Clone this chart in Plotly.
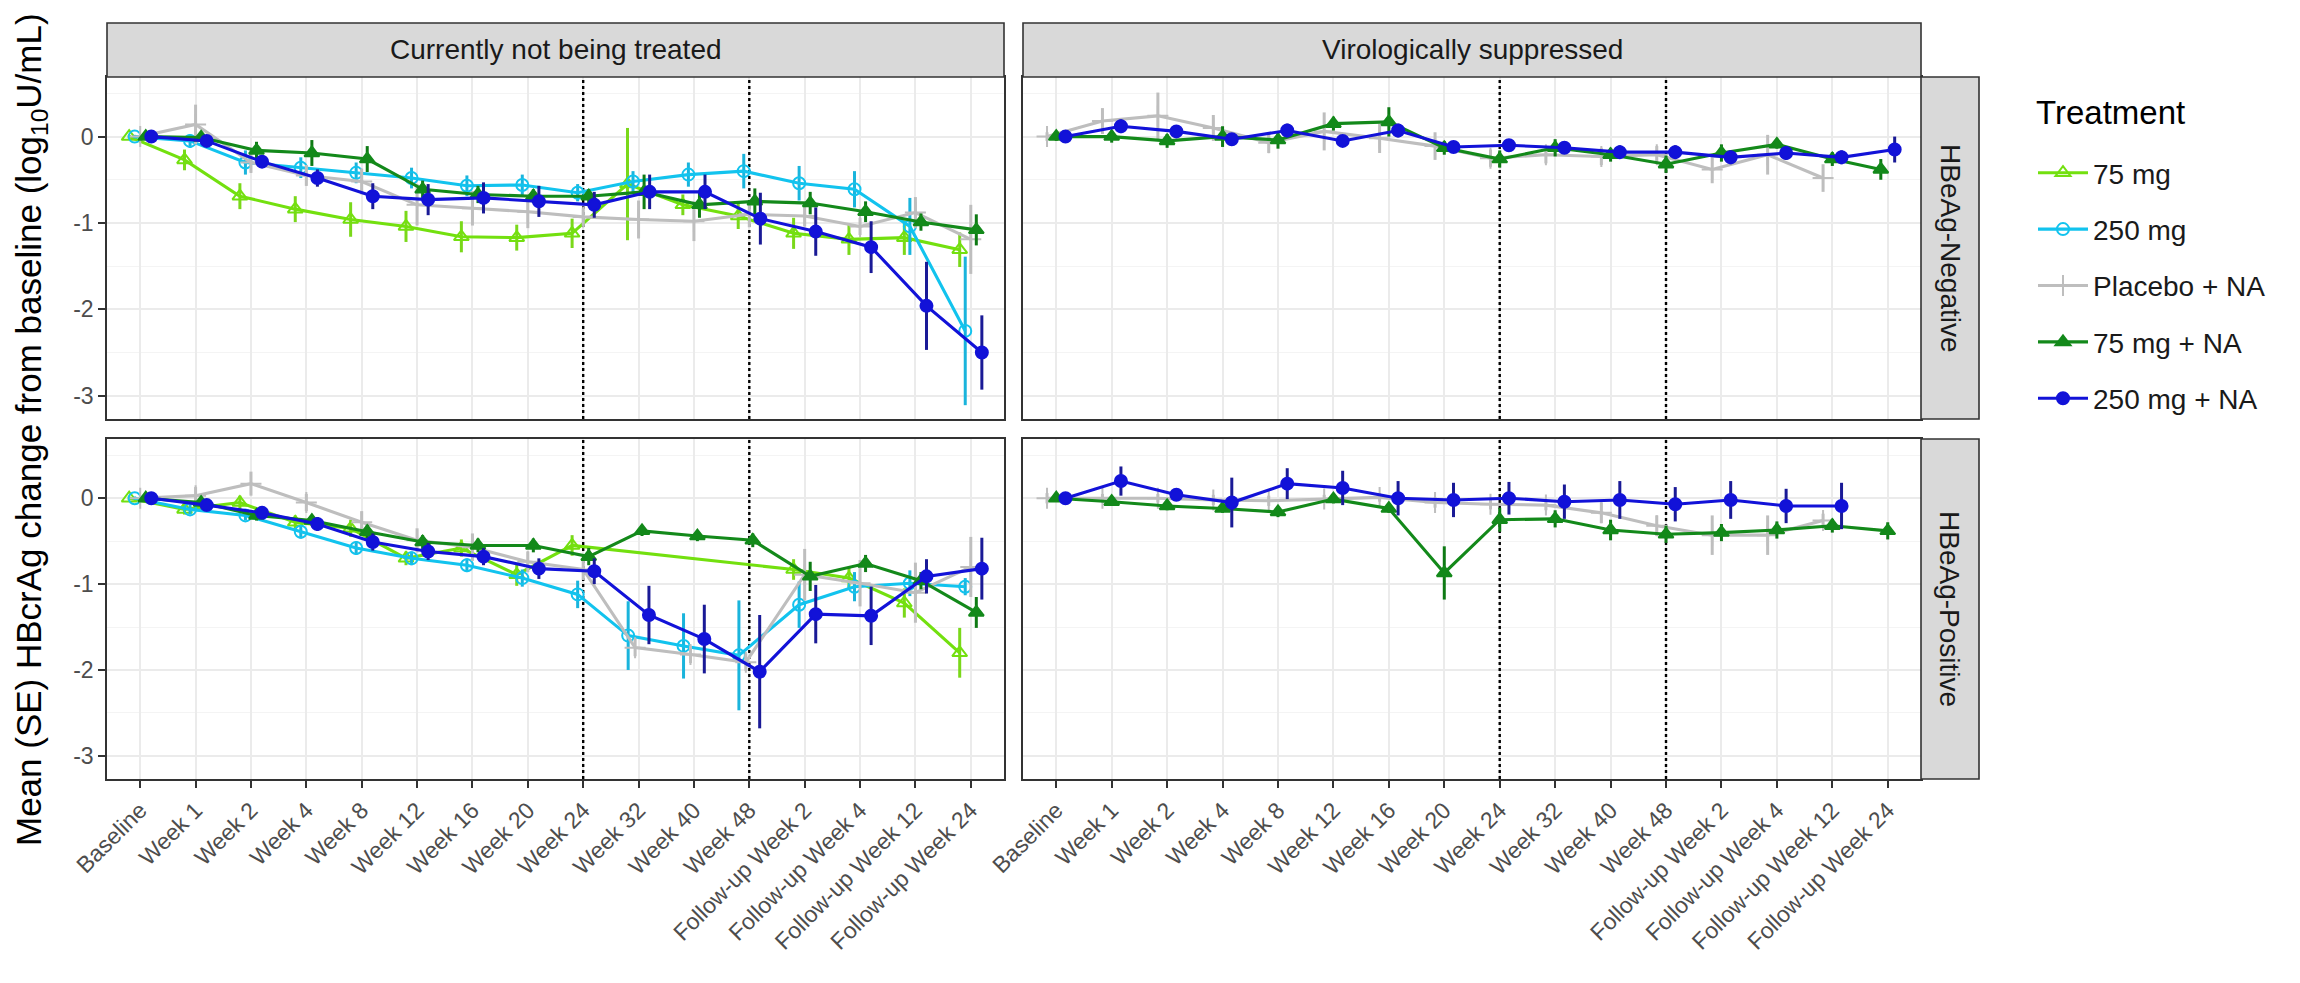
import plotly.graph_objects as go

W, H = 2300, 983

cats = ["Baseline", "Week 1", "Week 2", "Week 4", "Week 8", "Week 12", "Week 16", "Week 20",
        "Week 24", "Week 32", "Week 40", "Week 48", "Follow-up Week 2", "Follow-up Week 4",
        "Follow-up Week 12", "Follow-up Week 24"]
treatments = ["75 mg", "250 mg", "Placebo + NA", "75 mg + NA", "250 mg + NA"]
cohorts = ["Currently not being treated", "Virologically suppressed"]
hbeag = ["HBeAg-Negative", "HBeAg-Positive"]
y_ticks = [0, -1, -2, -3]
y_ticktext = ["0", "-1", "-2", "-3"]
y_minor = [0.5, -0.5, -1.5, -2.5]
ref_weeks = ["Week 24", "Week 48"]

# ---- HBeAg-Negative, Currently not being treated ----
neg_untr_75_mean = [0, -0.27, -0.69, -0.84, -0.96, -1.04, -1.16, -1.17, -1.12, -0.55, -0.79, -0.92, -1.12, -1.19, -1.17, -1.31]
neg_untr_75_se = [0.02, 0.12, 0.15, 0.15, 0.2, 0.18, 0.18, 0.15, 0.17, 0.65, 0.12, 0.15, 0.18, 0.18, 0.2, 0.2]
neg_untr_250_mean = [0, -0.05, -0.30, -0.36, -0.42, -0.48, -0.57, -0.56, -0.65, -0.52, -0.44, -0.40, -0.54, -0.61, -1.04, -2.25]
neg_untr_250_se = [0.02, 0.08, 0.14, 0.12, 0.12, 0.12, 0.12, 0.12, 0.1, 0.12, 0.14, 0.2, 0.2, 0.21, 0.33, 0.86]
neg_untr_pbo_mean = [0, 0.14, -0.30, -0.45, -0.52, -0.79, -0.83, -0.87, -0.93, -0.96, -0.98, -0.90, -0.92, -1.04, -0.88, -1.19]
neg_untr_pbo_se = [0.02, 0.23, 0.12, 0.12, 0.15, 0.24, 0.2, 0.19, 0.1, 0.22, 0.23, 0.15, 0.12, 0.1, 0.18, 0.4]
neg_untr_75na_mean = [0, -0.01, -0.16, -0.19, -0.26, -0.61, -0.67, -0.69, -0.69, -0.64, -0.79, -0.75, -0.77, -0.87, -0.99, -1.08]
neg_untr_75na_se = [0.02, 0.05, 0.1, 0.15, 0.15, 0.1, 0.1, 0.08, 0.08, 0.2, 0.15, 0.15, 0.13, 0.12, 0.1, 0.18]
neg_untr_250na_mean = [0, -0.05, -0.29, -0.48, -0.69, -0.73, -0.71, -0.75, -0.79, -0.64, -0.64, -0.95, -1.10, -1.28, -1.96, -2.50]
neg_untr_250na_se = [0.02, 0.05, 0.07, 0.1, 0.15, 0.18, 0.18, 0.18, 0.15, 0.2, 0.2, 0.3, 0.28, 0.3, 0.51, 0.43]

# ---- HBeAg-Positive, Currently not being treated ----
pos_untr_75_mean = [0, -0.13, -0.05, -0.28, -0.35, -0.70, -0.58, -0.89, -0.55, None, None, None, -0.83, -0.93, -1.22, -1.80]
pos_untr_75_se = [0.02, 0.06, 0.08, 0.08, 0.1, 0.08, 0.1, 0.13, 0.12, None, None, None, 0.12, 0.12, 0.17, 0.29]
pos_untr_250_mean = [0, -0.13, -0.20, -0.39, -0.58, -0.70, -0.78, -0.93, -1.12, -1.60, -1.72, -1.83, -1.24, -1.03, -0.99, -1.03]
pos_untr_250_se = [0.02, 0.06, 0.06, 0.08, 0.08, 0.08, 0.08, 0.1, 0.16, 0.4, 0.38, 0.64, 0.27, 0.17, 0.15, 0.1]
pos_untr_pbo_mean = [0, 0.03, 0.17, -0.05, -0.28, -0.49, -0.57, -0.74, -0.83, -1.74, -1.82, -1.91, -0.89, -0.99, -1.10, -0.80]
pos_untr_pbo_se = [0.02, 0.1, 0.14, 0.1, 0.13, 0.14, 0.16, 0.12, 0.12, 0.1, 0.1, 0.1, 0.3, 0.27, 0.35, 0.35]
pos_untr_75na_mean = [0, -0.05, -0.20, -0.26, -0.39, -0.51, -0.55, -0.55, -0.68, -0.38, -0.44, -0.49, -0.91, -0.76, -0.96, -1.33]
pos_untr_75na_se = [0.02, 0.05, 0.06, 0.06, 0.08, 0.08, 0.08, 0.08, 0.1, 0.06, 0.06, 0.08, 0.17, 0.1, 0.1, 0.18]
pos_untr_250na_mean = [0, -0.08, -0.17, -0.30, -0.51, -0.62, -0.68, -0.82, -0.85, -1.36, -1.64, -2.02, -1.35, -1.37, -0.91, -0.82]
pos_untr_250na_se = [0.02, 0.06, 0.06, 0.08, 0.1, 0.1, 0.1, 0.12, 0.15, 0.34, 0.4, 0.66, 0.34, 0.34, 0.2, 0.36]

# ---- HBeAg-Negative, Virologically suppressed ----
neg_supp_pbo_mean = [0, 0.18, 0.24, 0.10, -0.07, 0.06, -0.02, -0.11, -0.25, -0.21, -0.23, -0.21, -0.38, -0.21, -0.48, None]
neg_supp_pbo_se = [0.05, 0.15, 0.27, 0.15, 0.12, 0.22, 0.17, 0.16, 0.1, 0.1, 0.1, 0.1, 0.16, 0.23, 0.16, None]
neg_supp_75na_mean = [0, 0.0, -0.05, 0.0, -0.04, 0.15, 0.17, -0.13, -0.26, -0.13, -0.21, -0.32, -0.19, -0.09, -0.26, -0.38]
neg_supp_75na_se = [0.05, 0.07, 0.08, 0.12, 0.1, 0.08, 0.17, 0.08, 0.1, 0.1, 0.08, 0.1, 0.1, 0.05, 0.08, 0.12]
neg_supp_250na_mean = [0, 0.12, 0.06, -0.03, 0.07, -0.05, 0.07, -0.12, -0.10, -0.13, -0.18, -0.18, -0.24, -0.19, -0.24, -0.15]
neg_supp_250na_se = [0.03, 0.08, 0.06, 0.06, 0.08, 0.06, 0.08, 0.06, 0.06, 0.06, 0.08, 0.08, 0.08, 0.08, 0.08, 0.15]

# ---- HBeAg-Positive, Virologically suppressed ----
pos_supp_pbo_mean = [0, 0.0, 0.0, -0.02, -0.03, -0.01, 0.01, -0.05, -0.07, -0.08, -0.17, -0.32, -0.43, -0.43, -0.26, None]
pos_supp_pbo_se = [0.06, 0.05, 0.05, 0.06, 0.06, 0.05, 0.05, 0.06, 0.06, 0.06, 0.12, 0.12, 0.23, 0.23, 0.08, None]
pos_supp_75na_mean = [0, -0.04, -0.09, -0.12, -0.16, -0.01, -0.12, -0.87, -0.25, -0.24, -0.37, -0.42, -0.40, -0.37, -0.32, -0.38]
pos_supp_75na_se = [0.04, 0.04, 0.05, 0.05, 0.06, 0.05, 0.05, 0.31, 0.14, 0.1, 0.12, 0.1, 0.1, 0.1, 0.08, 0.1]
pos_supp_250na_mean = [0, 0.20, 0.04, -0.05, 0.17, 0.12, 0.0, -0.02, 0.0, -0.04, -0.02, -0.07, -0.02, -0.09, -0.09, None]
pos_supp_250na_se = [0.03, 0.17, 0.06, 0.29, 0.18, 0.2, 0.2, 0.2, 0.19, 0.2, 0.22, 0.2, 0.22, 0.2, 0.27, None]

# ---- styles ----
styles = {
    "75 mg": dict(color="#73E00F", err="#7AD81A", symbol="triangle-up-open", size=13),
    "250 mg": dict(color="#12C3EE", err="#1AB4DC", symbol="circle-open", size=12),
    "Placebo + NA": dict(color="#BEBEBE", err="#BEBEBE", symbol="cross-thin-open", size=15),
    "75 mg + NA": dict(color="#13891A", err="#0E7A14", symbol="triangle-up", size=13),
    "250 mg + NA": dict(color="#1212D8", err="#1A1A96", symbol="circle", size=12),
}

panels = [
    (0, 0, {"75 mg": (neg_untr_75_mean, neg_untr_75_se), "250 mg": (neg_untr_250_mean, neg_untr_250_se),
            "Placebo + NA": (neg_untr_pbo_mean, neg_untr_pbo_se), "75 mg + NA": (neg_untr_75na_mean, neg_untr_75na_se),
            "250 mg + NA": (neg_untr_250na_mean, neg_untr_250na_se)}),
    (0, 1, {"Placebo + NA": (neg_supp_pbo_mean, neg_supp_pbo_se), "75 mg + NA": (neg_supp_75na_mean, neg_supp_75na_se),
            "250 mg + NA": (neg_supp_250na_mean, neg_supp_250na_se)}),
    (1, 0, {"75 mg": (pos_untr_75_mean, pos_untr_75_se), "250 mg": (pos_untr_250_mean, pos_untr_250_se),
            "Placebo + NA": (pos_untr_pbo_mean, pos_untr_pbo_se), "75 mg + NA": (pos_untr_75na_mean, pos_untr_75na_se),
            "250 mg + NA": (pos_untr_250na_mean, pos_untr_250na_se)}),
    (1, 1, {"Placebo + NA": (pos_supp_pbo_mean, pos_supp_pbo_se), "75 mg + NA": (pos_supp_75na_mean, pos_supp_75na_se),
            "250 mg + NA": (pos_supp_250na_mean, pos_supp_250na_se)}),
]

# ---- geometry (pixels) ----
col_px = [(107, 1004), (1023, 1921)]
row_px = [(77, 419), (439, 779)]
strip_top_px = (23, 77)
strip_right_px = (1921, 1979)

def px_x(p): return p / W
def px_y(p): return 1 - p / H

FONT = "Liberation Sans, Arial, Helvetica, sans-serif"
DODGE = 0.5
x_range = [-0.6, len(cats) - 1 + 0.6]
y_range = [-3.27, 0.69]

fig = go.Figure()
legend_done = set()

for idx, (r, c, data) in enumerate(panels):
    ax = "" if idx == 0 else str(idx + 1)
    xref, yref = "x" + ax, "y" + ax
    # dotted reference lines (drawn first, below the data)
    vx, vy = [], []
    for wk in ref_weeks:
        xi = cats.index(wk)
        vx += [xi, xi, None]
        vy += [y_range[0], y_range[1], None]
    fig.add_trace(go.Scatter(x=vx, y=vy, mode="lines", xaxis=xref, yaxis=yref, showlegend=False,
                             hoverinfo="skip", line=dict(color="black", width=2.4, dash="dot")))
    present = [t for t in treatments if t in data]
    offsets = {t: [None] * len(cats) for t in present}
    for i in range(len(cats)):
        grp = [t for t in present if data[t][0][i] is not None]
        n = len(grp)
        for k, t in enumerate(grp):
            offsets[t][i] = DODGE * ((k + 0.5) / n - 0.5)
    for t in present:
        mean, se = data[t]
        xs, ys, es = [], [], []
        for i in range(len(cats)):
            if mean[i] is None:
                continue
            xs.append(i + offsets[t][i])
            ys.append(mean[i])
            es.append(se[i] if se[i] is not None else 0)
        st = styles[t]
        show = t not in legend_done
        legend_done.add(t)
        fig.add_trace(go.Scatter(
            x=xs, y=ys, mode="lines+markers", name=t, legendgroup=t, showlegend=show,
            xaxis=xref, yaxis=yref,
            line=dict(color=st["color"], width=3.1),
            marker=dict(symbol=st["symbol"], size=st["size"], color=st["color"],
                        line=dict(color=st["color"], width=2)),
            error_y=dict(type="data", array=es, visible=True, thickness=3, width=0, color=st["err"]),
        ))
    xd = [px_x(col_px[c][0]), px_x(col_px[c][1])]
    yd = [px_y(row_px[r][1]), px_y(row_px[r][0])]
    xa = dict(domain=xd, anchor=yref, range=x_range, tickmode="array",
              tickvals=list(range(len(cats))), ticktext=cats, automargin=False,
              showgrid=True, gridcolor="#EBEBEB", gridwidth=1.5, zeroline=False,
              showline=True, mirror=True, linecolor="#333333", linewidth=1.6)
    if r == 1:
        xa.update(ticks="outside", ticklen=7, tickwidth=1.6, tickcolor="#333333",
                  tickangle=-45, tickfont=dict(size=23, color="#4D4D4D", family=FONT))
    else:
        xa.update(showticklabels=False, ticks="")
    ya = dict(domain=yd, anchor=xref, range=y_range, tickmode="array", tickvals=y_ticks,
              ticktext=y_ticktext, showgrid=True, gridcolor="#EBEBEB", gridwidth=1.5, zeroline=False,
              showline=True, mirror=True, linecolor="#333333", linewidth=1.6, automargin=False,
              minor=dict(tickvals=y_minor, showgrid=True, gridcolor="#F4F4F4", gridwidth=1.2))
    if c == 0:
        ya.update(ticks="outside", ticklen=7, tickwidth=1.6, tickcolor="#333333",
                  tickfont=dict(size=23, color="#4D4D4D", family=FONT))
    else:
        ya.update(showticklabels=False, ticks="")
    fig.update_layout(**{"xaxis" + ax: xa, "yaxis" + ax: ya})

# strips
for c, label in enumerate(cohorts):
    fig.add_shape(type="rect", xref="paper", yref="paper",
                  x0=px_x(col_px[c][0]), x1=px_x(col_px[c][1]),
                  y0=px_y(strip_top_px[1]), y1=px_y(strip_top_px[0]),
                  fillcolor="#D9D9D9", line=dict(color="#333333", width=1.6), layer="above")
    fig.add_annotation(text=label, xref="paper", yref="paper",
                       x=px_x((col_px[c][0] + col_px[c][1]) / 2),
                       y=px_y((strip_top_px[0] + strip_top_px[1]) / 2),
                       xanchor="center", yanchor="middle",
                       showarrow=False, font=dict(size=28, color="#1A1A1A", family=FONT))
for r, label in enumerate(hbeag):
    fig.add_shape(type="rect", xref="paper", yref="paper",
                  x0=px_x(strip_right_px[0]), x1=px_x(strip_right_px[1]),
                  y0=px_y(row_px[r][1]), y1=px_y(row_px[r][0]),
                  fillcolor="#D9D9D9", line=dict(color="#333333", width=1.6), layer="above")
    fig.add_annotation(text=label, xref="paper", yref="paper", textangle=90,
                       x=px_x((strip_right_px[0] + strip_right_px[1]) / 2),
                       y=px_y((row_px[r][0] + row_px[r][1]) / 2),
                       xanchor="center", yanchor="middle",
                       showarrow=False, font=dict(size=28, color="#1A1A1A", family=FONT))

# y-axis title
fig.add_annotation(text="Mean (SE) HBcrAg change from baseline (log<sub>10</sub>U/mL)",
                   xref="paper", yref="paper", x=px_x(31), y=px_y(430), textangle=-90,
                   xanchor="center", yanchor="middle",
                   showarrow=False, font=dict(size=35, color="black", family=FONT))

# legend title as text
fig.add_annotation(text="Treatment", xref="paper", yref="paper", x=px_x(2034), y=px_y(113),
                   xanchor="left", yanchor="middle", showarrow=False,
                   font=dict(size=33, color="black", family=FONT))

fig.update_layout(
    width=W, height=H, margin=dict(l=0, r=0, t=0, b=0, autoexpand=False),
    paper_bgcolor="white", plot_bgcolor="white",
    font=dict(family=FONT),
    legend=dict(x=px_x(2033), y=px_y(148), xanchor="left", yanchor="top",
                font=dict(size=28, color="#1A1A1A", family=FONT),
                tracegroupgap=17, itemwidth=50, bgcolor="rgba(0,0,0,0)"),
)

fig.write_html("out.html")
